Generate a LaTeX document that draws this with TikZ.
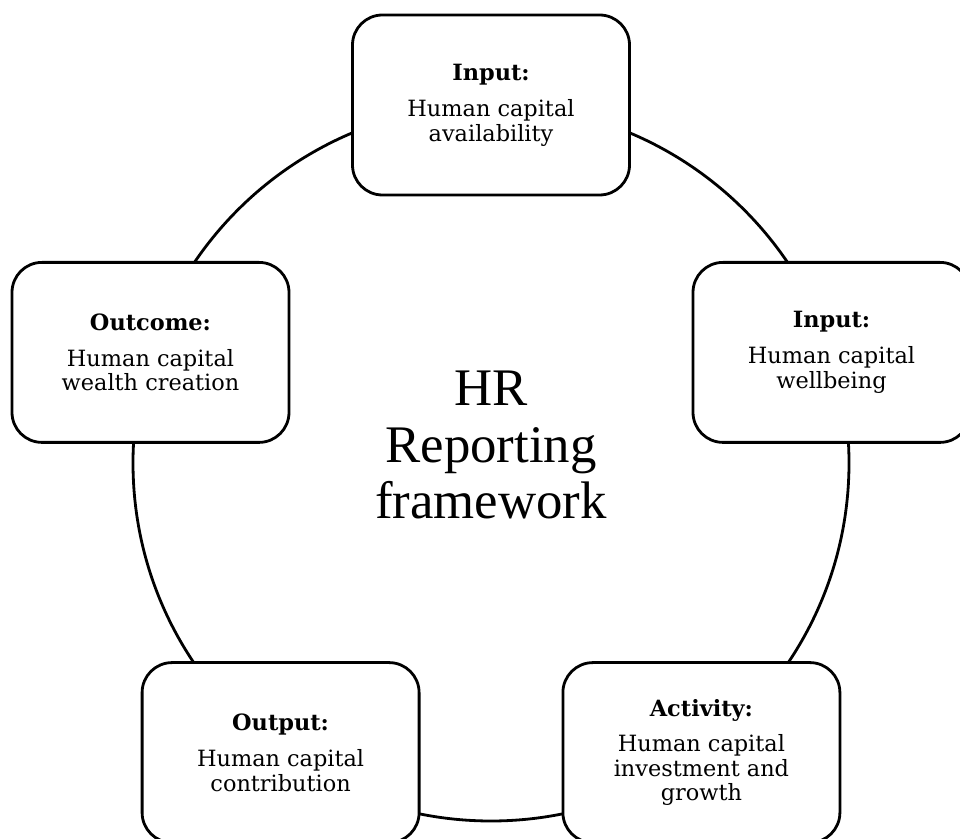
\documentclass[tikz,border=0pt]{standalone}
\usepackage{fontspec}
\setmainfont{DejaVu Serif}
\newfontfamily\hubfont{Liberation Serif}
\usepackage{tikz}

\tikzset{
  stage/.style={draw, line width=2.8bp, fill=white, rounded corners=30bp,
    minimum width=277bp, minimum height=180bp, align=center,
    font=\fontsize{22.5}{25}\selectfont},
  ring/.style={draw, line width=2.8bp}
}

\begin{document}
\begin{tikzpicture}[x=1bp, y=1bp]
        \useasboundingbox (0,0) rectangle (960,839);
        \clip (0,0) rectangle (960,839);
        % Vòng tròn nền
        \coordinate (hub) at (491,376);
        \draw[ring] (hub) circle[radius=358];
        % Tiêu đề ở giữa
        \node[font=\hubfont\fontsize{53}{56.5}\selectfont, align=center] (title) at (491,394)
            {HR\\Reporting\\framework};
        % Năm ô trên vòng tròn
        \node[stage] (availability) at (491,734)
            {\textbf{Input:}\\[11bp]Human capital\\availability};
        \node[stage] (wellbeing) at (831.5,486.6)
            {\textbf{Input:}\\[11bp]Human capital\\wellbeing};
        \node[stage] (investment) at (701.4,86.4)
            {\textbf{Activity:}\\[10bp]Human capital\\investment and\\growth};
        \node[stage] (contribution) at (280.6,86.4)
            {\textbf{Output:}\\[11bp]Human capital\\contribution};
        \node[stage] (wealth) at (150.5,486.6)
            {\textbf{Outcome:}\\[11bp]Human capital\\wealth creation};
\end{tikzpicture}
\end{document}
